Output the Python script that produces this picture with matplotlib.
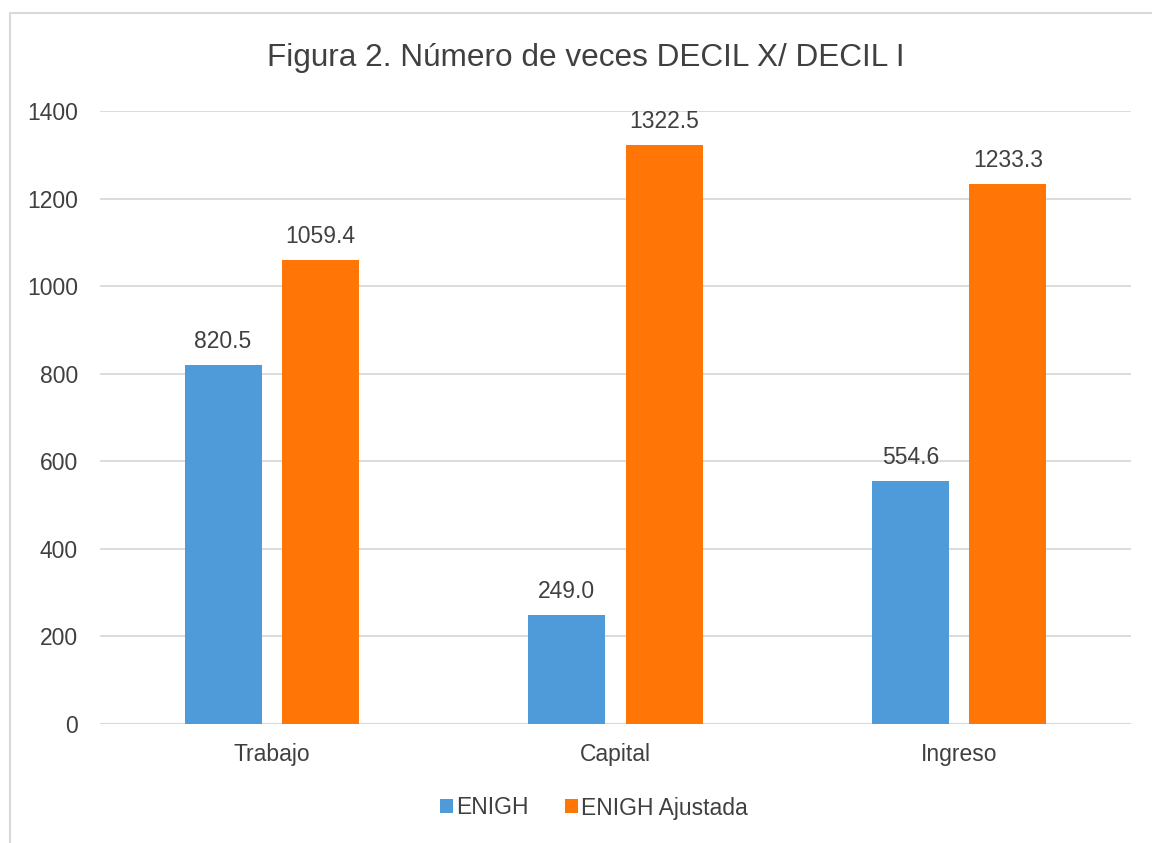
import matplotlib
matplotlib.use("Agg")
import matplotlib.pyplot as plt
import numpy as np
from matplotlib.patches import Rectangle

categories = ["Trabajo", "Capital", "Ingreso"]
enigh = [820.5, 249.0, 554.6]
enigh_ajustada = [1059.4, 1322.5, 1233.3]
series_names = ["ENIGH", "ENIGH Ajustada"]
yticks = [0, 200, 400, 600, 800, 1000, 1200, 1400]
title = "Figura 2. Número de veces DECIL X/ DECIL I"

plt.rcParams['font.family'] = ['Liberation Sans', 'DejaVu Sans']
TXT = '#404040'
BLUE = '#4F9AD9'
ORANGE = '#FF7506'
GRID = '#D9D9D9'

fig = plt.figure(figsize=(11.52, 8.43), dpi=100)
fig.patch.set_facecolor('white')
# outer chart border
fig.patches.append(Rectangle((10/1152, -0.05), 1.2, 1 - 13/843 + 0.05, transform=fig.transFigure,
                             fill=False, edgecolor=GRID, linewidth=1.5))

ax = fig.add_axes([100/1152, 1 - 724/843, 1031/1152, (724 - 111)/843])
x = np.arange(len(categories))
w = 0.224
off = 0.142
b1 = ax.bar(x - off, enigh, w, color=BLUE, label=series_names[0], zorder=3)
b2 = ax.bar(x + off, enigh_ajustada, w, color=ORANGE, label=series_names[1], zorder=3)

for bars, vals in ((b1, enigh), (b2, enigh_ajustada)):
    for r, v in zip(bars, vals):
        ax.annotate(f"{v:.1f}", (r.get_x() + r.get_width() / 2, v), xytext=(0, 8.5),
                    textcoords='offset points', ha='center', va='bottom',
                    fontsize=16.5, color=TXT)

ax.set_xlim(-0.5, 2.5)
ax.set_ylim(0, 1400)
ax.set_yticks(yticks)
ax.set_yticklabels([str(t) for t in yticks])
ax.set_xticks(x)
ax.set_xticklabels(categories)
ax.tick_params(axis='both', length=0, labelsize=16.5, labelcolor=TXT)
ax.tick_params(axis='y', pad=16)
ax.tick_params(axis='x', pad=14)
ax.grid(axis='y', color=GRID, linewidth=1.3, zorder=0)
for s in ax.spines.values():
    s.set_visible(False)
ax.axhline(0, color=GRID, linewidth=1.5, zorder=2)

fig.text(586/1152, 1 - 58/843, title, ha='center', va='center', fontsize=22.7, color=TXT)

leg = fig.legend(handles=[b1, b2], labels=series_names, loc='center', bbox_to_anchor=(594/1152, 1 - 808/843),
                 ncol=2, frameon=False, fontsize=16.5, handlelength=0.55, handleheight=0.55,
                 handletextpad=0.15, columnspacing=1.6, labelcolor=TXT)

fig.savefig("out.png", dpi=100, facecolor='white')
